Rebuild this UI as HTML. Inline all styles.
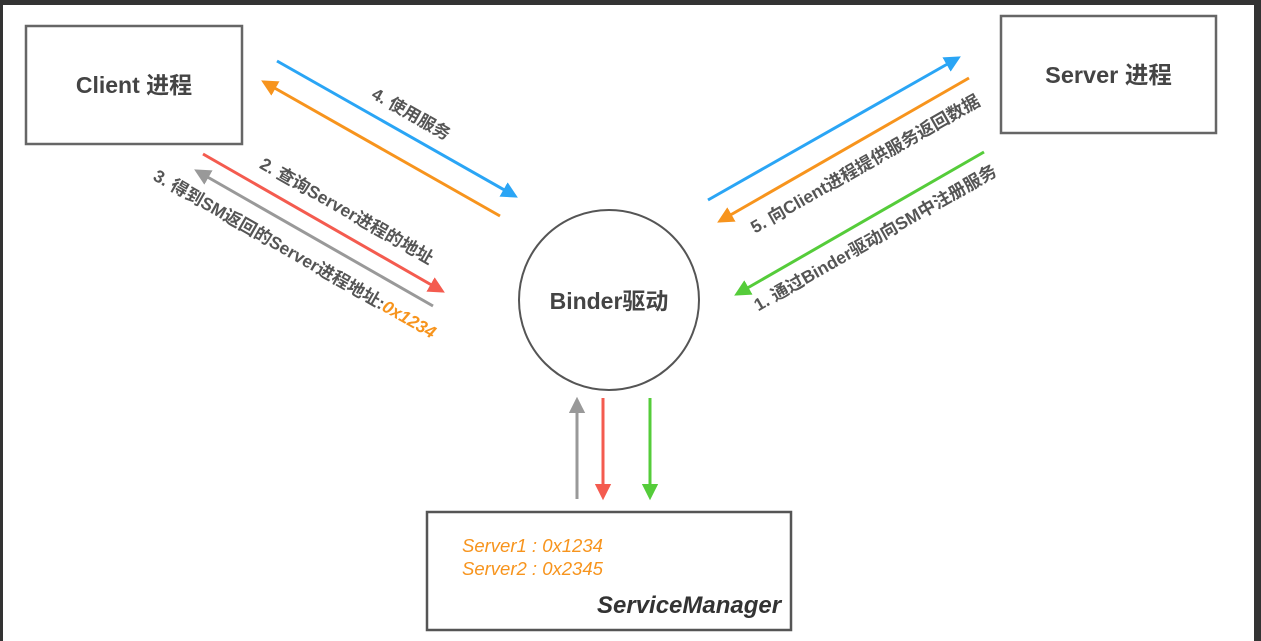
<!DOCTYPE html>
<html><head><meta charset="utf-8"><style>
body{margin:0;background:#333;}
#c{position:absolute;left:3px;top:5px;width:1251px;height:636px;background:#fff;}
.t{position:absolute;font-family:"Liberation Sans","Noto Sans CJK SC",sans-serif;font-weight:bold;color:#555;white-space:nowrap;transform-origin:center center;}
</style></head><body>
<div id="c"></div>
<svg width="1261" height="641" style="position:absolute;left:0;top:0">
<defs>
<marker id="mb" viewBox="0 0 10 10" refX="8" refY="5" markerWidth="5.5" markerHeight="5.5" orient="auto-start-reverse"><path d="M0,0L10,5L0,10z" fill="#2aa5f5"/></marker>
<marker id="mo" viewBox="0 0 10 10" refX="8" refY="5" markerWidth="5.5" markerHeight="5.5" orient="auto-start-reverse"><path d="M0,0L10,5L0,10z" fill="#f7941d"/></marker>
<marker id="mr" viewBox="0 0 10 10" refX="8" refY="5" markerWidth="5.5" markerHeight="5.5" orient="auto-start-reverse"><path d="M0,0L10,5L0,10z" fill="#f45b4f"/></marker>
<marker id="mg" viewBox="0 0 10 10" refX="8" refY="5" markerWidth="5.5" markerHeight="5.5" orient="auto-start-reverse"><path d="M0,0L10,5L0,10z" fill="#999"/></marker>
<marker id="mn" viewBox="0 0 10 10" refX="8" refY="5" markerWidth="5.5" markerHeight="5.5" orient="auto-start-reverse"><path d="M0,0L10,5L0,10z" fill="#55cc3a"/></marker>
</defs>
<rect x="26" y="26" width="216" height="118" fill="none" stroke="#666" stroke-width="2.5"/>
<rect x="1001" y="16" width="215" height="117" fill="none" stroke="#666" stroke-width="2.5"/>
<rect x="427" y="512" width="364" height="118" fill="none" stroke="#555" stroke-width="2.5"/>
<circle cx="609" cy="300" r="90" fill="none" stroke="#555" stroke-width="2"/>
<g stroke-width="3" fill="none">
<line x1="277" y1="61" x2="515" y2="196" stroke="#2aa5f5" marker-end="url(#mb)"/>
<line x1="500" y1="216" x2="264" y2="82" stroke="#f7941d" marker-end="url(#mo)"/>
<line x1="203" y1="154" x2="442" y2="291" stroke="#f45b4f" marker-end="url(#mr)"/>
<line x1="433" y1="306" x2="197" y2="171" stroke="#999" marker-end="url(#mg)"/>
<line x1="708" y1="200" x2="958" y2="58" stroke="#2aa5f5" marker-end="url(#mb)"/>
<line x1="969" y1="78" x2="720" y2="221" stroke="#f7941d" marker-end="url(#mo)"/>
<line x1="984" y1="152" x2="737" y2="294" stroke="#55cc3a" marker-end="url(#mn)"/>
<line x1="577" y1="499" x2="577" y2="400" stroke="#999" marker-end="url(#mg)"/>
<line x1="603" y1="398" x2="603" y2="497" stroke="#f45b4f" marker-end="url(#mr)"/>
<line x1="650" y1="398" x2="650" y2="497" stroke="#55cc3a" marker-end="url(#mn)"/>
</g>
</svg>
<div class="t" style="left:26px;top:66px;width:216px;text-align:center;font-size:23px;color:#444">Client 进程</div>
<div class="t" style="left:1001px;top:56px;width:215px;text-align:center;font-size:23.5px;color:#444">Server 进程</div>
<div class="t" style="left:509px;top:282px;width:200px;text-align:center;font-size:23px;color:#444">Binder驱动</div>
<div class="t" style="left:322px;top:100px;width:180px;text-align:center;font-size:17px;transform:rotate(29.7deg)">4. 使用服务</div>
<div class="t" style="left:207px;top:198px;width:280px;text-align:center;font-size:17.5px;transform:rotate(29.7deg)">2. 查询Server进程的地址</div>
<div class="t" style="left:115px;top:241px;width:360px;text-align:center;font-size:17.5px;transform:rotate(29.7deg)">3. 得到SM返回的Server进程地址:<span style="color:#f7941d;font-style:italic">0x1234</span></div>
<div class="t" style="left:705px;top:151px;width:320px;text-align:center;font-size:17.5px;transform:rotate(-29.7deg)">5. 向Client进程提供服务返回数据</div>
<div class="t" style="left:715px;top:225px;width:320px;text-align:center;font-size:17.5px;transform:rotate(-29.7deg)">1. 通过Binder驱动向SM中注册服务</div>
<div class="t" style="left:462px;top:534px;font-size:18.5px;font-weight:normal;font-style:italic;color:#f7941d;line-height:23px">Server1 : 0x1234<br>Server2 : 0x2345</div>
<div class="t" style="left:597px;top:592px;font-size:24px;font-style:italic;color:#333">ServiceManager</div>
</body></html>
